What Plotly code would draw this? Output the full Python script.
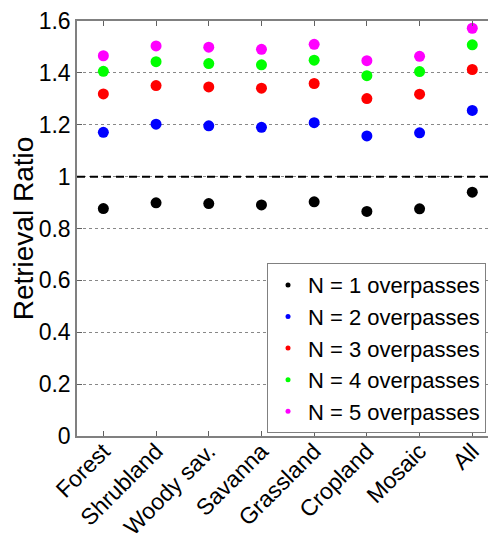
import plotly.graph_objects as go

categories = ["Forest", "Shrubland", "Woody sav.", "Savanna", "Grassland", "Cropland", "Mosaic", "All"]
n1 = [0.877, 0.899, 0.896, 0.891, 0.903, 0.866, 0.876, 0.940]
n2 = [1.171, 1.202, 1.196, 1.190, 1.208, 1.157, 1.169, 1.255]
n3 = [1.319, 1.351, 1.346, 1.341, 1.359, 1.301, 1.318, 1.413]
n4 = [1.406, 1.443, 1.436, 1.431, 1.449, 1.389, 1.405, 1.508]
n5 = [1.466, 1.504, 1.499, 1.491, 1.510, 1.447, 1.464, 1.572]
series_names = ["N = 1 overpasses", "N = 2 overpasses", "N = 3 overpasses", "N = 4 overpasses", "N = 5 overpasses"]
series = [n1, n2, n3, n4, n5]
colors = ["#000000", "#0000ff", "#ff0000", "#00ff00", "#ff00ff"]

x_idx = list(range(len(categories)))
fig = go.Figure()
for name, vals, c in zip(series_names, series, colors):
    fig.add_trace(go.Scatter(x=x_idx, y=vals, mode="markers", showlegend=False,
                             marker=dict(color=c, size=11), name=name))
for name, c in zip(series_names, colors):
    fig.add_trace(go.Scatter(x=[None], y=[None], mode="markers", name=name,
                             marker=dict(color=c, size=5)))

fig.add_shape(type="line", xref="paper", x0=0, x1=1, yref="y", y0=1, y1=1,
              line=dict(color="black", width=2, dash="8px,5px"))

# page body has an 8px margin, so the figure is sized to end at the window edge
fig.update_layout(
    width=488, height=531,
    margin=dict(l=69, r=0, t=13, b=103),
    plot_bgcolor="white", paper_bgcolor="white",
    font=dict(family="Liberation Sans, Arial", size=23, color="black"),
    legend=dict(x=0.4535, xanchor="left", y=0.007, yanchor="bottom",
                bordercolor="#808080", borderwidth=1, bgcolor="white",
                font=dict(size=22), itemwidth=30, tracegroupgap=0),
    xaxis=dict(range=[-0.5, 7.45], tickmode="array", tickvals=x_idx, ticktext=categories,
               tickangle=-45, ticks="inside", ticklen=5, tickcolor="#606060",
               showline=True, linecolor="#808080", linewidth=1.5, mirror="ticks",
               showgrid=False, zeroline=False, automargin=False, ticklabelstandoff=-9,
               ticklabeloverflow="allow"),
    yaxis=dict(range=[0, 1.6], dtick=0.2, ticks="inside", ticklen=5, tickcolor="#606060",
               showline=True, linecolor="#808080", linewidth=1.5, mirror="ticks",
               showgrid=True, gridcolor="#888888", griddash="dot", gridwidth=1,
               zeroline=False, automargin=False, ticklabeloverflow="allow",
               title=dict(text="Retrieval Ratio", standoff=5)),
)
fig.write_html("out.html")
